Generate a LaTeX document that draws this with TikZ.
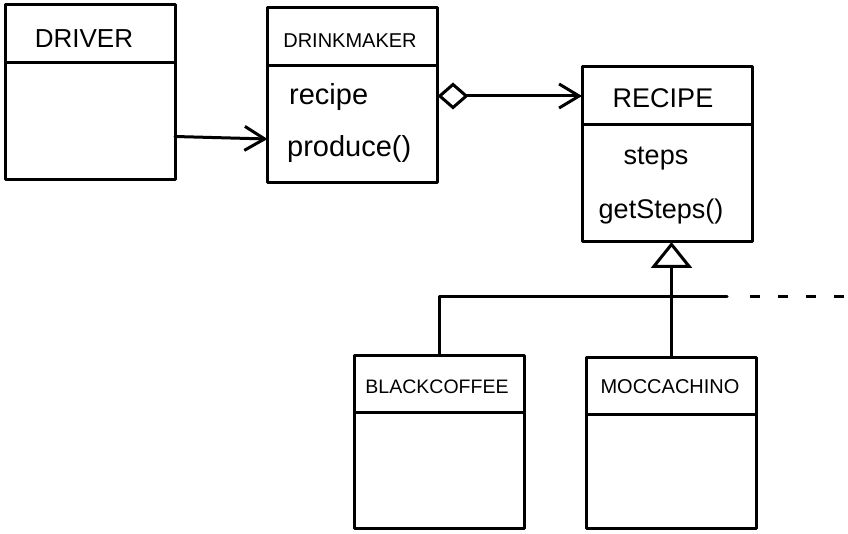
\documentclass[tikz,border=0pt]{standalone}
\usepackage{fontspec}
\setmainfont{Liberation Sans}
\usetikzlibrary{arrows.meta}
\begin{document}
\begin{tikzpicture}[x=1pt,y=-1pt,
  ink/.style={line width=3pt, line join=round, line cap=round},
  compart/.style={ink, draw, rectangle, minimum width=170pt, inner sep=0pt, outer sep=0pt},
  hdr/.style={compart, minimum height=58pt},
  bdy/.style={compart, minimum height=117pt},
  title/.style={anchor=base, inner sep=0pt},
  member/.style={anchor=base west, inner sep=0pt, font=\fontsize{27}{29}\selectfont},
  assoc/.style={ink, -{Straight Barb[length=20pt,width=24pt]}},
  aggr/.style={ink, {Diamond[open,length=31pt,width=27pt]}-{Straight Barb[length=20pt,width=24pt]}},
  inherit/.style={ink, -{Triangle[open,length=26pt,width=41pt]}},
]
\useasboundingbox (0,0) rectangle (848,534);

% Driver
\node[hdr] (drvH) at (90,34) {};
\node[bdy, anchor=north] (drvB) at (drvH.south) {};
\node[title, font=\fontsize{26}{28}\selectfont] (drvT) at (84,48) {DRIVER};

% DrinkMaker
\node[hdr] (dmH) at (352.5,36.5) {};
\node[bdy, anchor=north] (dmB) at (dmH.south) {};
\node[title, font=\fontsize{20}{22}\selectfont] (dmT) at (350,48) {DRINKMAKER};
\node[member, font=\fontsize{29}{31}\selectfont] (dmRecipe) at (289,105) {recipe};
\node[member, font=\fontsize{29}{31}\selectfont] (dmProduce) at (287,157) {produce()};

% Recipe
\node[hdr] (recH) at (667,96) {};
\node[bdy, anchor=north] (recB) at (recH.south) {};
\node[title, font=\fontsize{27}{29}\selectfont] (recT) at (663,108) {RECIPE};
\node[member, anchor=base] (recSteps) at (656,165) {steps};
\node[member, anchor=base] (recGet) at (661,219) {getSteps()};

% BlackCoffee
\node[hdr, minimum height=57pt] (bcH) at (439,383.5) {};
\node[bdy, anchor=north, minimum height=116pt] (bcB) at (bcH.south) {};
\node[title, font=\fontsize{19.5}{21}\selectfont] (bcT) at (437,393) {BLACKCOFFEE};

% Moccachino
\node[hdr, minimum height=57pt] (mocH) at (671.5,385.5) {};
\node[bdy, anchor=north, minimum height=114pt] (mocB) at (mocH.south) {};
\node[title, font=\fontsize{20}{22}\selectfont] (mocT) at (670,393) {MOCCACHINO};

% Associations
\draw[assoc] ([yshift=-15pt]drvB.east) -- ([yshift=-15pt]dmB.west);
\draw[aggr] ([yshift=28pt]dmB.east) -- (recH.west);

% Generalization
\draw[inherit] (mocH.north) -- (mocH.north |- recB.south);
\coordinate (railEnd) at (727,297);
\coordinate (dashStart) at (750,297);
\coordinate (dashEnd) at (848,297);
\draw[ink] (bcH.north) |- (railEnd);
\draw[ink, line cap=butt, dash pattern=on 10pt off 18pt] (dashStart) -- (dashEnd);
\end{tikzpicture}
\end{document}
